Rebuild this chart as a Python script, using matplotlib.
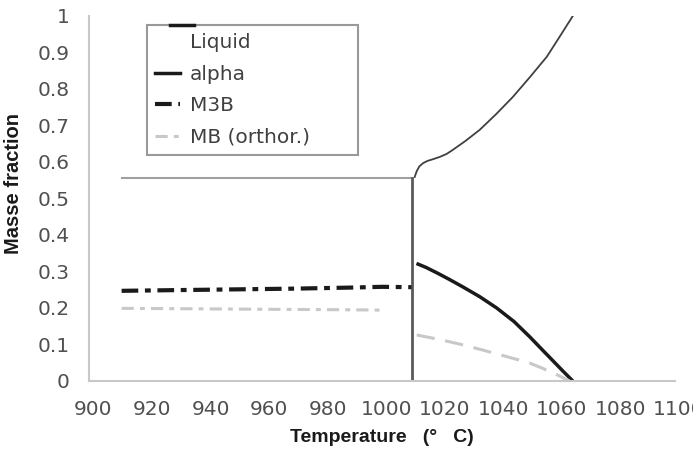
import matplotlib
matplotlib.use("Agg")
import matplotlib.pyplot as plt
import matplotlib.transforms as mtransforms
from matplotlib.lines import Line2D

# values
temp_ticks = [900, 920, 940, 960, 980, 1000, 1020, 1040, 1060, 1080, 1100]
frac_ticks = [0, 0.1, 0.2, 0.3, 0.4, 0.5, 0.6, 0.7, 0.8, 0.9, 1]
frac_labels = ["0", "0.1", "0.2", "0.3", "0.4", "0.5", "0.6", "0.7", "0.8", "0.9", "1"]

# liquid: flat part below the step, the step itself, and the curve above it
liq_flat_T = [911, 1010]
liq_flat = [0.557, 0.557]
liq_step_T = [1010.1, 1010.1]
liq_step = [0.0, 0.557]
liq_T = [1011.1, 1011.8, 1012.7, 1014, 1015.5, 1017.5, 1019.7, 1022, 1024.1, 1028.5,
         1033.3, 1038.9, 1044.6, 1050.4, 1056.2, 1060.6, 1065.1]
liq = [0.559, 0.575, 0.588, 0.597, 0.603, 0.608, 0.614, 0.622, 0.633, 0.658,
       0.688, 0.731, 0.778, 0.832, 0.888, 0.943, 1.0]

# alpha (above the step)
alpha_T = [1011.7, 1015, 1019, 1023, 1027.5, 1033.3, 1039.1, 1045, 1050.4, 1054, 1058, 1061.5, 1065.1]
alpha = [0.322, 0.311, 0.295, 0.278, 0.258, 0.231, 0.200, 0.163, 0.121, 0.091, 0.058, 0.029, 0.0]

# M3B (below the step)
m3b_T = [911, 930, 950, 970, 990, 1000, 1010]
m3b = [0.247, 0.249, 0.251, 0.253, 0.256, 0.258, 0.257]

# MB (orthor.)
mb_T = [911, 930, 950, 970, 990, 1001]
mb = [0.199, 0.198, 0.197, 0.196, 0.195, 0.194]
mb_hi_T = [1011.8, 1020, 1027, 1033.3, 1042, 1050.4, 1055, 1060, 1064]
mb_hi = [0.126, 0.113, 0.100, 0.087, 0.068, 0.049, 0.034, 0.016, 0.0]

plt.rcParams['font.family'] = ['DejaVu Sans']

fig = plt.figure(figsize=(6.93, 4.70), dpi=100)
ax = fig.add_axes([0.129, 0.1894, 0.845, 0.7766])

ax.plot(liq_flat_T, liq_flat, color='#a0a0a0', lw=1.5)
ax.plot(liq_step_T, liq_step, color='#595959', lw=2)
ax.plot(liq_T, liq, color='#404040', lw=1.3)
ax.plot(alpha_T, alpha, color='#1a1a1a', lw=2.5, solid_capstyle='butt')
ax.plot(m3b_T, m3b, color='#1a1a1a', lw=3, dashes=(4, 1.6, 1.4, 1.6))
ax.plot(mb_T, mb, color='#c8c8c8', lw=2.2, dashes=(4, 2, 1.6, 2))
ax.plot(mb_hi_T, mb_hi, color='#c8c8c8', lw=2.2, dashes=(6, 3.5))

ax.set_xlim(900, 1100)
ax.set_ylim(0, 1)
ax.set_xticks(temp_ticks)
ax.set_xticklabels([str(t) for t in temp_ticks])
ax.set_yticks(frac_ticks)
ax.set_yticklabels(frac_labels)
ax.tick_params(length=0, labelsize=14.5, colors='#505050')
ax.tick_params(axis='x', pad=14)
ax.tick_params(axis='y', pad=14)
shift = mtransforms.ScaledTranslation(4 / 100, 0, fig.dpi_scale_trans)
for lab in ax.get_xticklabels():
    lab.set_transform(lab.get_transform() + shift)

for s in ['top', 'right']:
    ax.spines[s].set_visible(False)
for s in ['left', 'bottom']:
    ax.spines[s].set_color('#c8c8c8')
    ax.spines[s].set_linewidth(1.5)

ax.set_ylabel('Masse fraction', family=['Liberation Sans', 'DejaVu Sans'],
              fontweight='bold', fontsize=14.5, color='#1a1a1a')
ax.yaxis.set_label_coords(-0.114, 0.542)
ax.set_xlabel('Temperature   (°   C)', family=['Liberation Sans Narrow', 'Liberation Sans', 'DejaVu Sans'],
              fontweight='bold', fontsize=14, color='#1a1a1a', labelpad=7)

handles = [
    Line2D([], [], color='none'),
    Line2D([], [], color='#1a1a1a', lw=2.5),
    Line2D([], [], color='#1a1a1a', lw=3, dashes=(4, 1.6, 1.4, 1.6)),
    Line2D([], [], color='#c8c8c8', lw=2.2, dashes=(4, 2, 1.6, 2)),
]
labels = ['Liquid', 'alpha', 'M3B', 'MB (orthor.)']
leg = ax.legend(handles, labels, loc='upper left', bbox_to_anchor=(0.099, 0.0, 0.359, 0.975),
                mode='expand', borderaxespad=0, fontsize=14.5, frameon=True, fancybox=False,
                handlelength=1.2, handletextpad=0.5, labelspacing=0.62, borderpad=0.4)
leg.get_frame().set_edgecolor('#808080')
leg.get_frame().set_linewidth(1.5)
for t in leg.get_texts():
    t.set_color('#404040')

# the Liquid key sits on the top edge of the legend box
ax.plot([0.137, 0.179], [0.975, 0.975], transform=ax.transAxes, color='#1a1a1a',
        lw=2.5, clip_on=False, zorder=10)

fig.savefig('out.png', dpi=100)
